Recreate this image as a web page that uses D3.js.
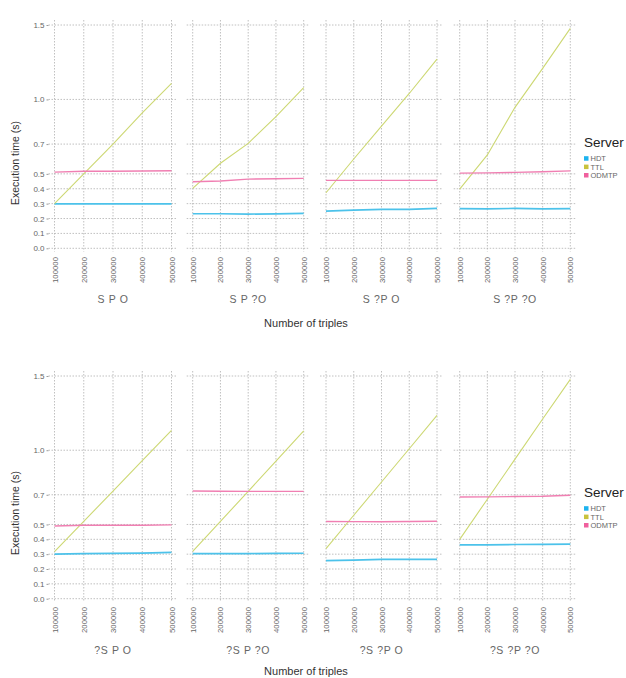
<!DOCTYPE html>
<html><head><meta charset="utf-8">
<script src="https://cdn.jsdelivr.net/npm/d3@7"></script>
<style>
body{margin:0;background:#fff;}
svg{display:block;font-family:"Liberation Sans","DejaVu Sans",Arial,sans-serif;}
</style></head>
<body><div id="chart"></div>
<script>
const triples = [100000, 200000, 300000, 400000, 500000];
const servers = ["HDT", "TTL", "ODMTP"];
const patterns = ["S P O", "S P ?O", "S ?P O", "S ?P ?O", "?S P O", "?S P ?O", "?S ?P O", "?S ?P ?O"];
const yTicks = [0.0, 0.1, 0.2, 0.3, 0.4, 0.5, 0.7, 1.0, 1.5];

// execution time (s) per pattern, per server, at each number of triples
const hdt = [
  [0.298, 0.298, 0.298, 0.298, 0.299],
  [0.232, 0.232, 0.230, 0.231, 0.234],
  [0.250, 0.256, 0.262, 0.262, 0.268],
  [0.266, 0.265, 0.268, 0.265, 0.267],
  [0.300, 0.303, 0.305, 0.307, 0.312],
  [0.303, 0.304, 0.304, 0.305, 0.306],
  [0.257, 0.260, 0.265, 0.265, 0.265],
  [0.362, 0.363, 0.365, 0.366, 0.368]
];
const ttl = [
  [0.300, 0.500, 0.700, 0.910, 1.108],
  [0.403, 0.571, 0.705, 0.884, 1.079],
  [0.373, 0.600, 0.820, 1.040, 1.271],
  [0.398, 0.627, 0.947, 1.209, 1.477],
  [0.317, 0.521, 0.725, 0.930, 1.134],
  [0.319, 0.521, 0.723, 0.927, 1.131],
  [0.337, 0.562, 0.786, 1.010, 1.235],
  [0.400, 0.670, 0.940, 1.210, 1.477]
];
const odmtp = [
  [0.512, 0.518, 0.518, 0.519, 0.521],
  [0.447, 0.452, 0.465, 0.467, 0.470],
  [0.456, 0.456, 0.456, 0.456, 0.456],
  [0.505, 0.507, 0.510, 0.514, 0.520],
  [0.490, 0.495, 0.495, 0.495, 0.497],
  [0.725, 0.724, 0.723, 0.723, 0.723],
  [0.520, 0.519, 0.518, 0.520, 0.522],
  [0.685, 0.686, 0.688, 0.690, 0.697]
];
const seriesData = {HDT: hdt, TTL: ttl, ODMTP: odmtp};

const lineColor = {HDT: "#4cc2ea", TTL: "#cdd873", ODMTP: "#f07fb2"};
const keyColor = {HDT: "#1db3ef", TTL: "#c8c23c", ODMTP: "#f0609e"};
const lineWidth = {HDT: 1.7, TTL: 1.1, ODMTP: 1.4};

const W = 626, H = 678;
const svg = d3.select("#chart").append("svg").attr("width", W).attr("height", H);

const colX = [[54.5, 171.5], [192.7, 303.7], [326, 437], [459.7, 570.3]];
const rows = [
  {y0: 248.3, y15: 25, top: 20, bottom: 251.5, tickLab: 257, facet: 303, xtitle: 327, ytitleY: 163, legendY: 147},
  {y0: 598.7, y15: 376, top: 371, bottom: 602, tickLab: 607, facet: 654, xtitle: 675, ytitleY: 513, legendY: 497}
];

rows.forEach((r, ri) => {
  const y = d3.scaleLinear().domain([0, 1.5]).range([r.y0, r.y15]);
  colX.forEach((cx, ci) => {
    const pi = ri * 4 + ci;
    const x = d3.scaleLinear().domain([100000, 500000]).range(cx);
    const g = svg.append("g");
    const gx0 = cx[0] - 6, gx1 = cx[1] + 5;
    g.selectAll("line.hg").data(yTicks).join("line")
      .attr("x1", gx0).attr("x2", gx1)
      .attr("y1", d => y(d)).attr("y2", d => y(d))
      .attr("stroke", "#b0b0b0").attr("stroke-width", 0.8).attr("stroke-dasharray", "1.5,1.5");
    g.selectAll("line.vg").data(triples).join("line")
      .attr("x1", d => x(d)).attr("x2", d => x(d))
      .attr("y1", r.top).attr("y2", r.bottom)
      .attr("stroke", "#b0b0b0").attr("stroke-width", 0.8).attr("stroke-dasharray", "1.5,1.5");
    const xa = g.append("g").attr("transform", `translate(0,${r.tickLab})`)
      .call(d3.axisBottom(x).tickValues(triples).tickSize(0).tickPadding(0).tickFormat(d3.format("d")));
    xa.select(".domain").remove();
    xa.selectAll("text").attr("transform", "rotate(-90)").attr("text-anchor", "end")
      .attr("x", 0).attr("y", 0).attr("dy", "0.32em")
      .attr("fill", "#666").style("font-size", "7.8px");
    if (ci === 0) {
      const ya = g.append("g").attr("transform", `translate(${gx0},0)`)
        .call(d3.axisLeft(y).tickValues(yTicks).tickSize(2).tickPadding(2).tickFormat(d3.format(".1f")));
      ya.select(".domain").remove();
      ya.selectAll(".tick line").attr("stroke", "#999");
      ya.selectAll("text").attr("fill", "#666").style("font-size", "8px");
    }
    const line = d3.line().x((d, i) => x(triples[i])).y(d => y(d));
    servers.forEach(s => {
      g.append("path").datum(seriesData[s][pi])
        .attr("d", line).attr("fill", "none")
        .attr("stroke", lineColor[s]).attr("stroke-width", lineWidth[s]);
    });
    g.append("text").attr("x", (cx[0] + cx[1]) / 2).attr("y", r.facet)
      .attr("text-anchor", "middle").attr("fill", "#666")
      .style("font-size", "10.5px").style("letter-spacing", "0.6px")
      .text(patterns[pi]);
  });
  svg.append("text").attr("x", 306).attr("y", r.xtitle).attr("text-anchor", "middle")
    .attr("fill", "#333").style("font-size", "11px").text("Number of triples");
  svg.append("text").attr("transform", `translate(19,${r.ytitleY}) rotate(-90)`)
    .attr("text-anchor", "middle").attr("fill", "#333").style("font-size", "10.5px")
    .text("Execution time (s)");
  const lg = svg.append("g").attr("transform", `translate(584,${r.legendY})`);
  lg.append("text").attr("x", 0).attr("y", 0).attr("fill", "#222")
    .style("font-size", "13.5px").text("Server");
  servers.forEach((s, i) => {
    const yy = 11.5 + i * 8.4;
    lg.append("rect").attr("x", 0).attr("y", yy - 2.3).attr("width", 4.5).attr("height", 4.5)
      .attr("fill", keyColor[s]);
    lg.append("text").attr("x", 6.5).attr("y", yy).attr("dy", "0.35em")
      .attr("fill", "#666").style("font-size", "7.5px").text(s);
  });
});
</script>
</body></html>
